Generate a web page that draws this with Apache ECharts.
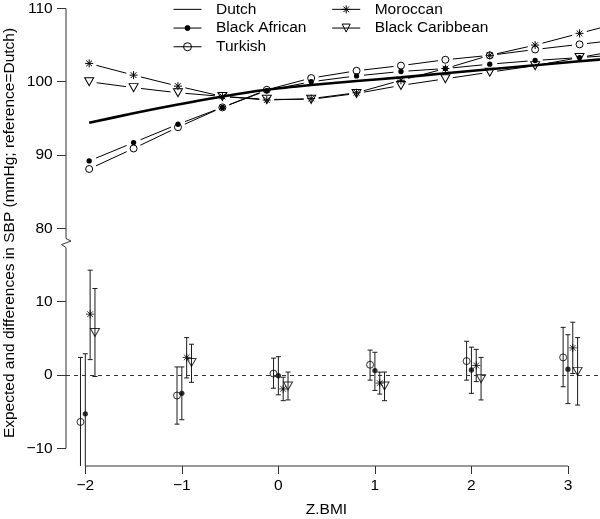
<!DOCTYPE html>
<html><head><meta charset="utf-8">
<script src="https://cdn.jsdelivr.net/npm/echarts@6/dist/echarts.min.js"></script>
<style>html,body{margin:0;padding:0;background:#fff}#c{width:600px;height:519px}</style>
</head><body><div id="c"></div>
<script>
// ---------------- data ----------------
// Upper panel: expected SBP (mmHg) along Z.BMI
const zbmiLine = [-1.96, -1.50, -1.04, -0.58, -0.12, 0.34, 0.81, 1.27, 1.73, 2.19, 2.66, 3.12, 3.58];
const expDutch          = [94.4, 95.7, 96.9, 98.0, 98.9, 99.55, 100.1, 100.6, 101.15, 101.7, 102.25, 102.8, 103.3];
const expBlackAfrican   = [89.2, 91.7, 94.2, 96.5, 98.8, 100.0, 100.8, 101.4, 101.8, 102.4, 102.9, 103.3, 103.7];
const expTurkish        = [88.1, 90.9, 93.8, 96.5, 98.9, 100.5, 101.5, 102.2, 103.0, 103.6, 104.4, 105.1, 105.8];
const expMoroccan       = [102.5, 100.9, 99.4, 98.0, 97.5, 97.7, 98.5, 100.2, 101.8, 103.6, 105.0, 106.6, 108.2];
const expBlackCaribbean = [100.0, 99.2, 98.5, 98.0, 97.6, 97.6, 98.4, 99.5, 100.4, 101.3, 102.2, 103.3, 104.4];

// Lower panel: differences vs Dutch (mmHg) with 95% CI at Z.BMI = -2..3
const zbmiGroups = [-2, -1, 0, 1, 2, 3];
const diffTurkish = [-6.4, -2.8, 0.2, 1.4, 1.9, 2.4];
const loTurkish   = [-15.2, -6.7, -1.8, -0.7, -0.7, -1.6];
const hiTurkish   = [2.4, 1.1, 2.3, 3.4, 4.6, 6.5];
const diffBlackAfrican = [-5.3, -2.5, -0.1, 0.6, 0.7, 0.8];
const loBlackAfrican   = [-13.5, -6.1, -2.7, -2.1, -2.5, -3.9];
const hiBlackAfrican   = [2.9, 1.1, 2.5, 3.1, 3.8, 5.5];
const diffMoroccan = [8.3, 2.4, -1.9, -1.1, 1.3, 3.7];
const loMoroccan   = [2.1, -0.4, -3.5, -2.6, -0.9, 0.2];
const hiMoroccan   = [14.3, 5.1, -0.3, 0.4, 3.5, 7.2];
const diffBlackCaribbean = [5.8, 1.7, -1.5, -1.5, -0.5, 0.5];
const loBlackCaribbean   = [-0.2, -1.0, -3.4, -3.5, -3.4, -4.1];
const hiBlackCaribbean   = [11.8, 4.2, 0.4, 0.4, 2.4, 5.1];

// Axis tick labels
const xTickLabels = [-2, -1, 0, 1, 2, 3];
const yTickLabels = [-10, 0, 10, 80, 90, 100, 110];

// ---------------- layout / style ----------------
const SHIFT = 60;          // broken axis: upper-panel value v drawn at v - SHIFT
const UPPER_FROM = 80;     // tick labels >= this belong to the upper panel
const BREAK_AT = 18;       // axis position of break mark
const X_MIN = -2.2, X_MAX = 3.332, Y_MIN = -12.41, Y_MAX = 51.15;
const GAP = 7.5;           // gap around points for type "b" lines
const FONT = 'Liberation Sans, Arial, Helvetica, sans-serif';
const FS = 15.5;
const INK = '#000';
const AXIS_INK = '#333';

const SYM_STAR = 'path://M0,-1L0,1M-1,0L1,0M-0.71,-0.71L0.71,0.71M-0.71,0.71L0.71,-0.71';
const SYM_TRI = 'path://M-1,-0.78L1,-0.78L0,1Z';
const SYM_DOT = 'path://M-1.6,-1.6M1.6,1.6M-1,0A1,1 0 1 0 1,0A1,1 0 1 0 -1,0Z';

const toPos = v => (v >= UPPER_FROM ? v - SHIFT : v);
const yTickPos = yTickLabels.map(toPos);
const labelOf = {};
yTickLabels.forEach(v => { labelOf[toPos(v)] = v; });
const fmtNum = v => (v < 0 ? '\u2212' + Math.abs(v) : String(v));

const groups = [
  {name: 'Black African', exp: expBlackAfrican, diff: diffBlackAfrican, lo: loBlackAfrican, hi: hiBlackAfrican,
   off: 0.0, symbol: SYM_DOT, size: 8.5, style: {color: INK, borderColor: INK, borderWidth: 0}},
  {name: 'Turkish', exp: expTurkish, diff: diffTurkish, lo: loTurkish, hi: hiTurkish,
   off: -0.05, symbol: 'circle', size: 7, style: {color: 'rgba(255,255,255,0)', borderColor: INK, borderWidth: 1}},
  {name: 'Moroccan', exp: expMoroccan, diff: diffMoroccan, lo: loMoroccan, hi: hiMoroccan,
   off: 0.05, symbol: SYM_STAR, size: 8, style: {color: INK, borderColor: INK, borderWidth: 1}},
  {name: 'Black Caribbean', exp: expBlackCaribbean, diff: diffBlackCaribbean, lo: loBlackCaribbean, hi: hiBlackCaribbean,
   off: 0.1, symbol: SYM_TRI, size: [9, 8], style: {color: 'rgba(255,255,255,0)', borderColor: INK, borderWidth: 1}}
];

const series = [];
// Dutch reference: thick solid line
series.push({
  name: 'Dutch', type: 'line', symbol: 'none', smooth: 0.3, clip: true, silent: true,
  data: zbmiLine.map((x, i) => [x, expDutch[i] - SHIFT]),
  lineStyle: {color: INK, width: 2.6}, itemStyle: {color: INK}, z: 3
});
// Markers of upper panel
groups.forEach(g => {
  series.push({
    name: g.name, type: 'line', symbol: g.symbol, symbolSize: g.size, showSymbol: true, showAllSymbol: true,
    clip: true, silent: true,
    data: zbmiLine.map((x, i) => [x, g.exp[i] - SHIFT]),
    lineStyle: {width: 0, opacity: 0}, itemStyle: g.style, z: 4
  });
});
// Gapped segments (type "b")
groups.forEach(g => {
  const segs = [];
  for (let i = 0; i < zbmiLine.length - 1; i++) {
    segs.push([zbmiLine[i], g.exp[i] - SHIFT, zbmiLine[i + 1], g.exp[i + 1] - SHIFT]);
  }
  series.push({
    type: 'custom', clip: true, silent: true, encode: {x: [0, 2], y: [1, 3]}, data: segs, z: 3,
    renderItem(p, api) {
      const a = api.coord([api.value(0), api.value(1)]);
      const b = api.coord([api.value(2), api.value(3)]);
      const dx = b[0] - a[0], dy = b[1] - a[1], L = Math.hypot(dx, dy);
      if (L <= 2 * GAP) return null;
      const ux = dx / L, uy = dy / L;
      return {type: 'line', shape: {x1: a[0] + ux * GAP, y1: a[1] + uy * GAP, x2: b[0] - ux * GAP, y2: b[1] - uy * GAP},
              style: {stroke: INK, lineWidth: 1}};
    }
  });
});
// Lower panel: error bars and points
groups.forEach((g, gi) => {
  series.push({
    type: 'custom', clip: true, silent: true, encode: {x: 0, y: [1, 2]}, z: 3,
    data: zbmiGroups.map((x, i) => [x + g.off, g.lo[i], g.hi[i]]),
    renderItem(p, api) {
      const a = api.coord([api.value(0), api.value(1)]);
      const b = api.coord([api.value(0), api.value(2)]);
      const w = 2.5, st = {stroke: '#1a1a1a', lineWidth: 1};
      return {type: 'group', children: [
        {type: 'line', shape: {x1: a[0], y1: a[1], x2: b[0], y2: b[1]}, style: st},
        {type: 'line', shape: {x1: a[0] - w, y1: a[1], x2: a[0] + w, y2: a[1]}, style: st},
        {type: 'line', shape: {x1: b[0] - w, y1: b[1], x2: b[0] + w, y2: b[1]}, style: st}
      ]};
    }
  });
  const sc = {
    name: g.name, type: 'scatter', symbol: g.symbol, symbolSize: g.size, clip: true, silent: true, z: 4,
    data: zbmiGroups.map((x, i) => [x + g.off, g.diff[i]]), itemStyle: g.style
  };
  if (gi === 0) {
    sc.markLine = {silent: true, symbol: 'none', label: {show: false},
      lineStyle: {type: [4, 4], color: AXIS_INK, width: 1}, data: [{yAxis: 0}]};
  }
  series.push(sc);
});
// R-style axis lines (span of ticks) with break mark
series.push({
  type: 'custom', clip: false, silent: true, data: [[X_MIN, Y_MIN]], z: 5,
  renderItem(p, api) {
    const bot = api.coord([X_MIN, yTickPos[0]]);
    const top = api.coord([X_MIN, yTickPos[yTickPos.length - 1]]);
    const brk = api.coord([X_MIN, BREAK_AT]);
    const X = bot[0];
    const xa = api.coord([xTickLabels[0], Y_MIN]);
    const xb = api.coord([xTickLabels[xTickLabels.length - 1], Y_MIN]);
    const st = {stroke: AXIS_INK, lineWidth: 1, fill: null};
    return {type: 'group', children: [
      {type: 'polyline', shape: {points: [[X, bot[1]], [X, brk[1] + 4.5], [X - 4.5, brk[1] + 1.5], [X + 5, brk[1] - 2], [X, brk[1] - 4.5], [X, top[1]]]}, style: st},
      {type: 'line', shape: {x1: xa[0], y1: xa[1], x2: xb[0], y2: xb[1]}, style: st}
    ]};
  }
});

const legendCommon = {
  orient: 'vertical', top: 0, padding: 0, itemGap: 0, itemWidth: 28, itemHeight: 10, selectedMode: false,
  textStyle: {fontFamily: FONT, fontSize: FS, color: INK, lineHeight: 18.7, padding: [0, 0, 0, 9.5]},
  lineStyle: {color: INK, width: 1, opacity: 1, type: 'solid'},
  itemStyle: {borderWidth: 1}
};

const option = {
  animation: false,
  backgroundColor: '#fff',
  grid: {left: 66, right: 0, top: 0, bottom: 53, containLabel: false},
  xAxis: {
    type: 'value', min: X_MIN, max: X_MAX, position: 'bottom',
    axisLine: {show: false, onZero: false}, splitLine: {show: false},
    axisTick: {show: true, customValues: xTickLabels, length: 8, lineStyle: {color: AXIS_INK}},
    axisLabel: {show: true, customValues: xTickLabels, margin: 12, formatter: v => fmtNum(v),
      fontFamily: FONT, fontSize: FS, color: INK}
  },
  yAxis: {
    type: 'value', min: Y_MIN, max: Y_MAX, position: 'left',
    axisLine: {show: false, onZero: false}, splitLine: {show: false},
    axisTick: {show: true, customValues: yTickPos, length: 9, lineStyle: {color: AXIS_INK}},
    axisLabel: {show: true, customValues: yTickPos, margin: 13.3,
      formatter: v => fmtNum(labelOf[v] !== undefined ? labelOf[v] : v),
      fontFamily: FONT, fontSize: FS, color: INK}
  },
  legend: [
    Object.assign({}, legendCommon, {left: 173,
      data: [{name: 'Dutch', itemStyle: {color: 'rgba(0,0,0,0)', borderColor: 'rgba(0,0,0,0)', borderWidth: 0}},
             'Black African', 'Turkish']}),
    Object.assign({}, legendCommon, {left: 331.7, data: ['Moroccan', 'Black Caribbean']})
  ],
  graphic: [
    {type: 'text', x: 9.5, y: 233, rotation: Math.PI / 2, silent: true,
     style: {text: 'Expected and differences in SBP (mmHg; reference=Dutch)', fontFamily: FONT, fontSize: FS,
             fill: INK, align: 'center', verticalAlign: 'middle'}},
    {type: 'text', x: 326.5, y: 510, silent: true,
     style: {text: 'Z.BMI', fontFamily: FONT, fontSize: FS, fill: INK, align: 'center', verticalAlign: 'middle'}}
  ],
  series: series
};

const chart = echarts.init(document.getElementById('c'), null, {renderer: 'canvas'});
chart.setOption(option);
</script>
</body></html>
